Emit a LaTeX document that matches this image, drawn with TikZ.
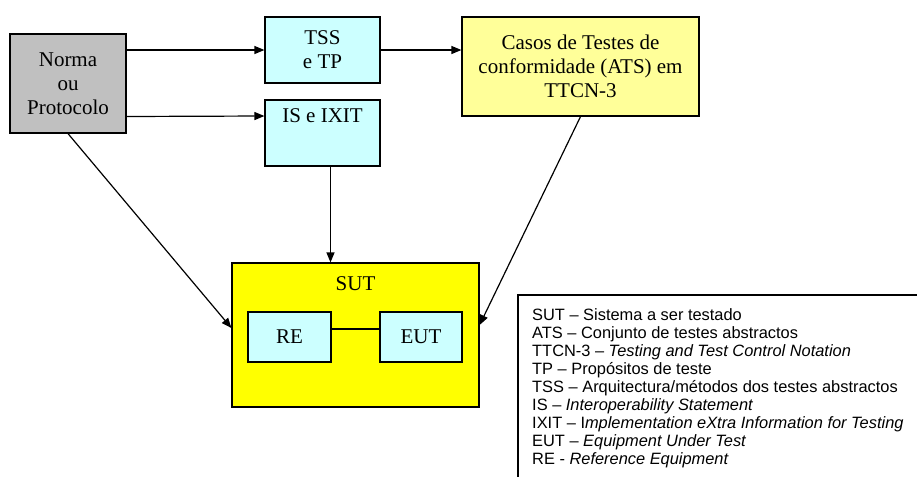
\documentclass[tikz,border=0pt]{standalone}
\usepackage{fontspec}
\setmainfont{Liberation Serif}
\newfontfamily\legendfont{Liberation Sans}
\usetikzlibrary{arrows.meta}
\definecolor{boxgray}{HTML}{C0C0C0}
\definecolor{boxcyan}{HTML}{CCFFFF}
\definecolor{boxlyellow}{HTML}{FFFF99}
\definecolor{boxyellow}{HTML}{FFFF00}
\tikzset{
  blk/.style={draw=black, line width=1.2pt, rectangle, inner sep=0pt, align=center,
    font=\fontsize{21}{24}\selectfont},
  arr/.style={line width=1.2pt, -{Triangle[length=10pt,width=8pt]}},
  conn/.style={line width=1.2pt}
}
\begin{document}
\begin{tikzpicture}[x=1pt,y=-1pt]
\useasboundingbox (0,0) rectangle (917,477);
\node[blk, fill=boxgray, minimum width=116pt, minimum height=99pt] (norma) at (68,83.5) {Norma\\ou\\Protocolo};
\node[blk, fill=boxcyan, minimum width=115pt, minimum height=66pt] (tss) at (322.5,50) {TSS\\e TP};
\node[blk, fill=boxcyan, minimum width=115pt, minimum height=66pt,
  label={[anchor=north, font=\fontsize{21}{24}\selectfont, yshift=-6pt]north:IS e IXIT}] (isx) at (322.5,133) {};
\node[blk, fill=boxlyellow, minimum width=237pt, minimum height=99pt] (ats) at (580.5,66.5) {Casos de Testes de\\conformidade (ATS) em\\TTCN-3};
\node[blk, fill=boxyellow, minimum width=247pt, minimum height=144pt,
  label={[anchor=north, font=\fontsize{21}{24}\selectfont, yshift=-11pt]north:SUT}] (sut) at (355.5,335) {};
\node[blk, fill=boxcyan, minimum width=83pt, minimum height=50pt] (re) at (289.5,337) {RE};
\node[blk, fill=boxcyan, minimum width=82pt, minimum height=50pt] (eut) at (421,337) {EUT};
\draw[conn] ([yshift=8pt]re.east) -- ([yshift=8pt]eut.west);
\draw[arr] (norma.east |- tss.west) -- (tss.west);
\draw[arr] ([yshift=-33pt]norma.east) -- ([yshift=17pt]isx.west);
\draw[arr] (tss.east) -- (ats.west |- tss.east);
\draw[arr] ([xshift=8pt]isx.south) -- ([xshift=8pt]isx.south |- sut.north);
\draw[arr] (norma.south) -- ([yshift=7pt]sut.west);
\draw[arr] (ats.south) -- ([yshift=10pt]sut.east);
\coordinate (lgtr) at (917,295);
\coordinate (lgtl) at (518,295);
\coordinate (lgbl) at (518,477);
\draw[line width=1.2pt] (lgtr) -- (lgtl) -- (lgbl);
\node[anchor=north west, inner sep=0pt, align=left, font=\legendfont\fontsize{16.4}{18}\selectfont] (legend) at (532,308.5) {%
SUT – Sistema a ser testado\\
ATS – Conjunto de testes abstractos\\
TTCN-3 – \textit{Testing and Test Control Notation}\\
TP – Propósitos de teste\\
TSS – Arquitectura/métodos dos testes abstractos\\
IS – \textit{Interoperability Statement}\\
IXIT – I\textit{mplementation eXtra Information for Testing}\\
EUT – \textit{Equipment Under Test}\\
RE - \textit{Reference Equipment}};
\end{tikzpicture}
\end{document}
